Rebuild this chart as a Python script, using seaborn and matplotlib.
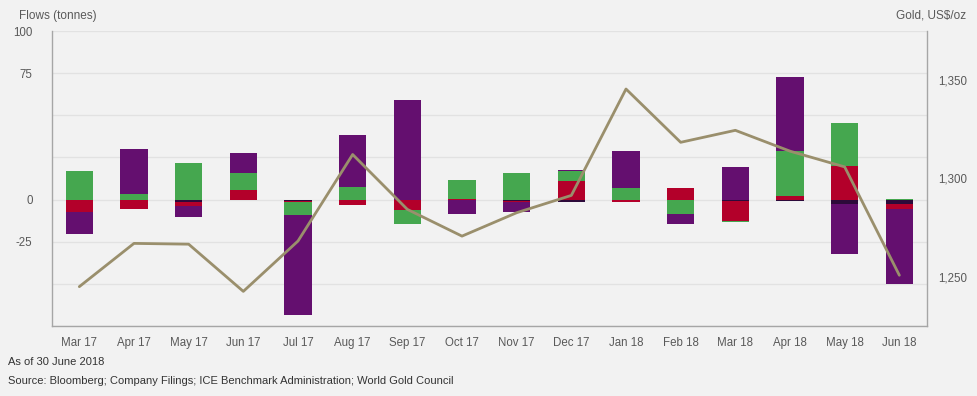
import numpy as np
import pandas as pd
import matplotlib
matplotlib.use("Agg")
import matplotlib.pyplot as plt
import seaborn as sns

# donnees (tonnes, par mois)
months = ["Mar 17", "Apr 17", "May 17", "Jun 17", "Jul 17", "Aug 17", "Sep 17", "Oct 17",
          "Nov 17", "Dec 17", "Jan 18", "Feb 18", "Mar 18", "Apr 18", "May 18", "Jun 18"]
dark = [0, 0, -1.2, 0, -1.0, 0, 0, 0, -1.0, -1.3, 0, -0.5, -1.0, -1.0, -2.7, -2.7]
red = [-7.4, -5.5, -2.7, 5.7, -0.7, -3.0, -6.2, 0.5, -0.5, 11.0, -1.5, 7.0, -12.0, 2.0, 19.9, -3.0]
green = [17.0, 3.3, 21.7, 10.1, -7.3, 7.4, -8.4, 11.1, 15.8, 6.0, 6.8, -8.1, -0.4, 27.0, 25.6, 0.4]
purple = [-13.0, 26.7, -6.3, 11.9, -59.6, 31.0, 59.2, -8.5, -5.8, 0.6, 22.1, -5.8, 19.6, 43.6, -29.6, -44.4]
gold = [1245, 1267, 1266.6, 1242.6, 1268.2, 1312.2, 1284.3, 1270.7, 1282.6, 1291.4,
        1345.5, 1318.4, 1324.5, 1313.9, 1305.9, 1250.8]

series = [dark, red, green, purple]
colors = ["#2d0a3a", "#b3002a", "#45a74f", "#640f6f"]

bg = "#f2f2f2"
txt = "#595959"

sns.set_style("white")
plt.rcParams["font.family"] = ["Liberation Sans", "DejaVu Sans"]

fig = plt.figure(figsize=(9.77, 3.96), dpi=100, facecolor=bg)
ax = fig.add_axes([0.0532, 0.1768, 0.8953, 0.7449])
ax.set_facecolor(bg)

# empilement separe positif / negatif
vals = np.array(series, dtype=float)
pos = np.cumsum(np.clip(vals, 0, None), axis=0)
neg = np.cumsum(np.clip(vals, None, 0), axis=0)

# on dessine du plus exterieur au plus proche de zero
for k in range(len(series) - 1, -1, -1):
    for cum in (pos[k], neg[k]):
        df = pd.DataFrame({"month": months, "v": cum})
        sns.barplot(data=df, x="month", y="v", color=colors[k], saturation=1,
                    width=0.5, linewidth=0, errorbar=None, ax=ax, zorder=3)

ax.set_ylim(-75, 100)
ax.set_xlim(-0.5, len(months) - 0.5)
yt = list(range(-75, 101, 25))
ax.set_yticks(yt)
ax.set_yticklabels(["" if t in (-75, -50, 25, 50) else str(t) for t in yt])
ax.yaxis.grid(True, color="#e2e2e2", lw=0.9, zorder=0)
ax.set_axisbelow(True)
ax.set_xlabel("")
ax.set_ylabel("")
ax.tick_params(axis="both", length=0, labelsize=8.3, colors=txt)
ax.tick_params(axis="y", pad=14)
ax.tick_params(axis="x", pad=8)
for s in ["top", "right"]:
    ax.spines[s].set_visible(False)
for s in ["left", "bottom"]:
    ax.spines[s].set_color("#a6a6a6")
    ax.spines[s].set_linewidth(1)

# prix de l'or, axe de droite
ax2 = ax.twinx()
sns.lineplot(x=np.arange(len(months)), y=gold, color="#9a8f6c", lw=2, ax=ax2, zorder=5)
ax2.set_ylim(1225, 1375)
ax2.set_yticks([1250, 1300, 1350])
ax2.set_yticklabels(["1,250", "1,300", "1,350"])
ax2.tick_params(axis="y", length=0, labelsize=8.3, colors=txt, pad=8)
for s in ["top", "left", "bottom"]:
    ax2.spines[s].set_visible(False)
ax2.spines["right"].set_color("#a6a6a6")
ax2.spines["right"].set_linewidth(1)
ax2.set_xlim(-0.5, len(months) - 0.5)

fig.text(19 / 977, 1 - 16 / 396, "Flows (tonnes)", fontsize=8.5, color=txt, va="center", ha="left")
fig.text(966 / 977, 1 - 16 / 396, "Gold, US$/oz", fontsize=8.5, color=txt, va="center", ha="right")
fig.text(8 / 977, 1 - 362 / 396, "As of 30 June 2018", fontsize=8, color="#333333", va="center")
fig.text(8 / 977, 1 - 381 / 396, "Source: Bloomberg; Company Filings; ICE Benchmark Administration; World Gold Council",
         fontsize=8, color="#333333", va="center")

fig.savefig("out.png", dpi=100, facecolor=bg)
